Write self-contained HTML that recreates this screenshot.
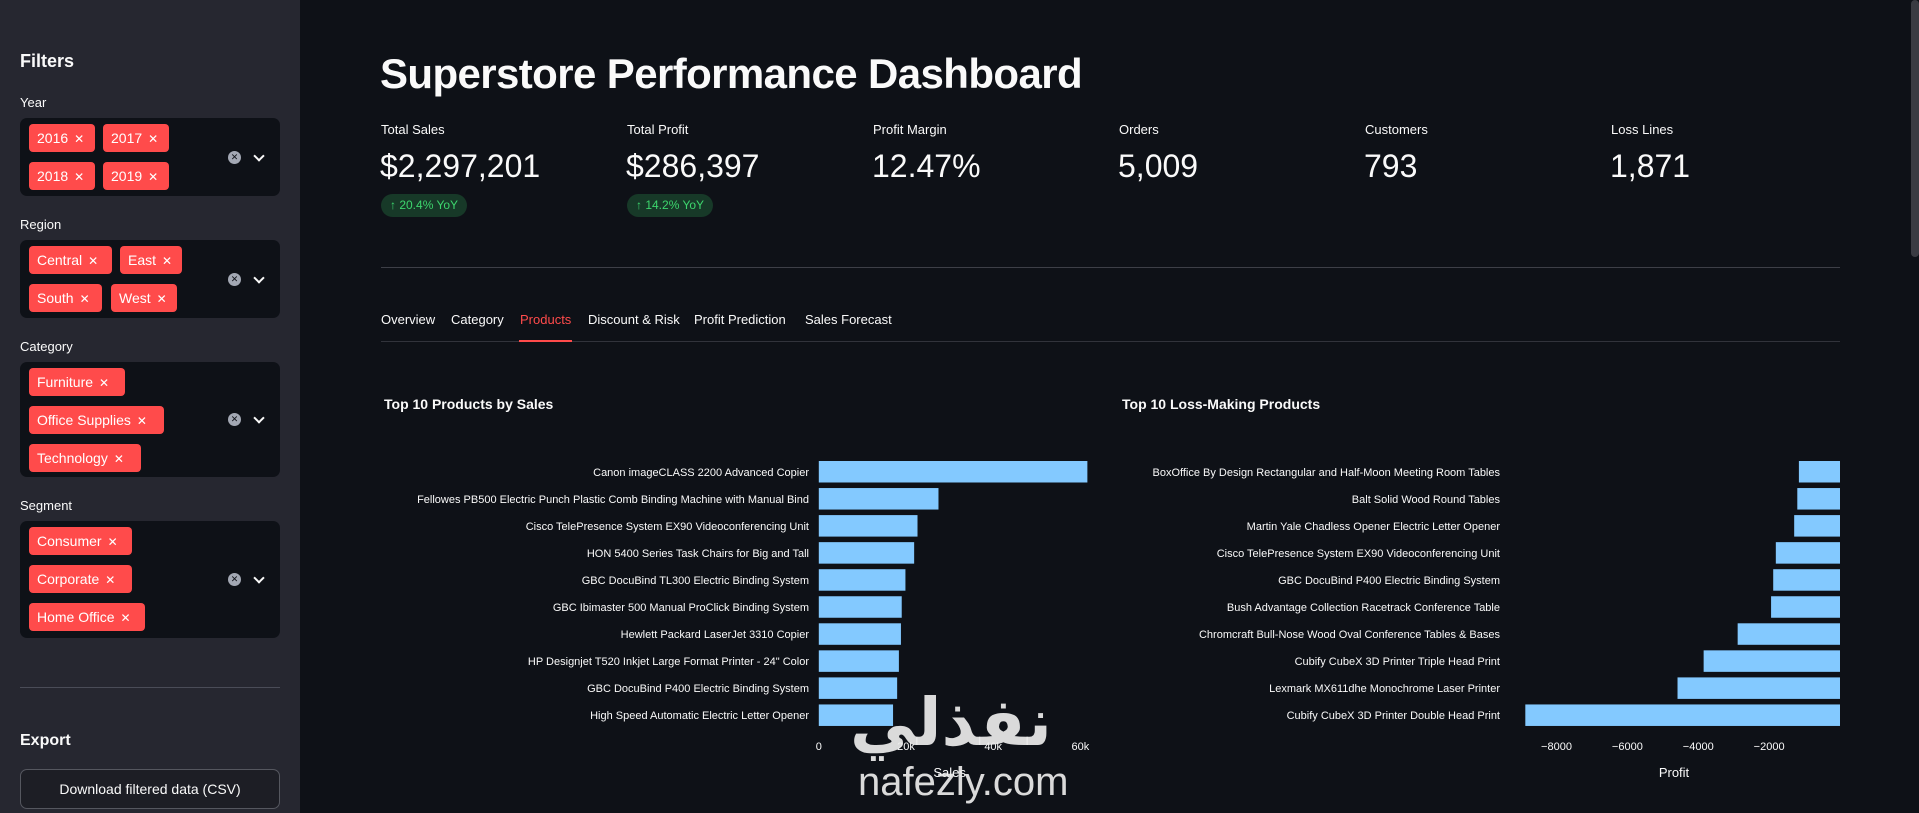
<!DOCTYPE html>
<html><head><meta charset="utf-8">
<style>
*{margin:0;padding:0;box-sizing:border-box}
body{width:1919px;height:813px;overflow:hidden;background:#0e1117;font-family:"Liberation Sans","Noto Sans CJK SC",sans-serif;color:#fafafa;position:relative}
.abs{position:absolute}
#sidebar{left:0;top:0;width:300px;height:813px;background:#262730}
.lbl{font-size:13px;color:#fafafa;left:20px}
.box{left:20px;width:260px;background:#0e1117;border-radius:7px}
.tag{position:absolute;height:28px;background:#ff4b4b;border-radius:4px;color:#fff;font-size:14px;line-height:28px;padding-left:8px;white-space:nowrap}
.tag span{font-size:12px;margin-left:6px}
.clr{position:absolute;left:208px;width:13px;height:13px;border-radius:50%;background:#a3a8b4;color:#0e1117;font-size:9px;text-align:center;line-height:13px}
.chev{position:absolute;left:234px;width:10px;height:10px}
.chev:before{content:"";position:absolute;left:1px;top:0;width:6px;height:6px;border-right:2px solid #fafafa;border-bottom:2px solid #fafafa;transform:rotate(45deg)}
.mlbl{font-size:13px;top:122px}
.mval{font-size:32px;top:148px;font-weight:300}
.pill{top:194px;height:23px;background:#173928;color:#3dd56d;border-radius:12px;font-size:12px;line-height:23px;padding:0 9px}
.tab{top:312px;font-size:13px}
</style></head><body>
<div id="sidebar" class="abs">
  <div class="abs" style="left:20px;top:51px;font-size:18px;font-weight:bold">Filters</div>
  <div class="abs lbl" style="top:95px">Year</div>
  <div class="abs box" style="top:118px;height:78px">
    <div class="tag" style="left:9px;top:6px;width:66px">2016<span>✕</span></div>
    <div class="tag" style="left:83px;top:6px;width:66px">2017<span>✕</span></div>
    <div class="tag" style="left:9px;top:44px;width:66px">2018<span>✕</span></div>
    <div class="tag" style="left:83px;top:44px;width:66px">2019<span>✕</span></div>
    <div class="clr" style="top:33px">✕</div>
    <div class="chev" style="top:34px"></div>
  </div>
  <div class="abs lbl" style="top:217px">Region</div>
  <div class="abs box" style="top:240px;height:78px">
    <div class="tag" style="left:9px;top:6px;width:83px">Central<span>✕</span></div>
    <div class="tag" style="left:100px;top:6px;width:62px">East<span>✕</span></div>
    <div class="tag" style="left:9px;top:44px;width:73px">South<span>✕</span></div>
    <div class="tag" style="left:91px;top:44px;width:66px">West<span>✕</span></div>
    <div class="clr" style="top:33px">✕</div>
    <div class="chev" style="top:34px"></div>
  </div>
  <div class="abs lbl" style="top:339px">Category</div>
  <div class="abs box" style="top:362px;height:115px">
    <div class="tag" style="left:9px;top:6px;width:96px">Furniture<span>✕</span></div>
    <div class="tag" style="left:9px;top:44px;width:135px">Office Supplies<span>✕</span></div>
    <div class="tag" style="left:9px;top:82px;width:112px">Technology<span>✕</span></div>
    <div class="clr" style="top:51px">✕</div>
    <div class="chev" style="top:52px"></div>
  </div>
  <div class="abs lbl" style="top:498px">Segment</div>
  <div class="abs box" style="top:521px;height:117px">
    <div class="tag" style="left:9px;top:6px;width:103px">Consumer<span>✕</span></div>
    <div class="tag" style="left:9px;top:44px;width:103px">Corporate<span>✕</span></div>
    <div class="tag" style="left:9px;top:82px;width:116px">Home Office<span>✕</span></div>
    <div class="clr" style="top:52px">✕</div>
    <div class="chev" style="top:53px"></div>
  </div>
  <div class="abs" style="left:20px;top:687px;width:260px;height:1px;background:#4a4c57"></div>
  <div class="abs" style="left:20px;top:732px;font-size:16px;font-weight:bold">Export</div>
  <div class="abs" style="left:20px;top:769px;width:260px;height:40px;border:1px solid #55575f;border-radius:7px;background:#1d1e25;font-size:14px;text-align:center;line-height:38px">Download filtered data (CSV)</div>
</div>
<div class="abs" style="left:1911px;top:0;width:8px;height:257px;background:#3a3b42;border-radius:4px"></div>

<div class="abs" style="left:380px;top:50px;font-size:42px;font-weight:bold;letter-spacing:-0.6px">Superstore Performance Dashboard</div>

<div class="abs mlbl" style="left:381px">Total Sales</div>
<div class="abs mval" style="left:380px">$2,297,201</div>
<div class="abs pill" style="left:381px">↑ 20.4% YoY</div>
<div class="abs mlbl" style="left:627px">Total Profit</div>
<div class="abs mval" style="left:626px">$286,397</div>
<div class="abs pill" style="left:627px">↑ 14.2% YoY</div>
<div class="abs mlbl" style="left:873px">Profit Margin</div>
<div class="abs mval" style="left:872px">12.47%</div>
<div class="abs mlbl" style="left:1119px">Orders</div>
<div class="abs mval" style="left:1118px">5,009</div>
<div class="abs mlbl" style="left:1365px">Customers</div>
<div class="abs mval" style="left:1364px">793</div>
<div class="abs mlbl" style="left:1611px">Loss Lines</div>
<div class="abs mval" style="left:1610px">1,871</div>

<div class="abs" style="left:381px;top:267px;width:1459px;height:1px;background:#3d3f47"></div>

<div class="abs tab" style="left:381px">Overview</div>
<div class="abs tab" style="left:451px">Category</div>
<div class="abs tab" style="left:520px;color:#ff4b4b">Products</div>
<div class="abs tab" style="left:588px">Discount &amp; Risk</div>
<div class="abs tab" style="left:694px">Profit Prediction</div>
<div class="abs tab" style="left:805px">Sales Forecast</div>
<div class="abs" style="left:381px;top:341px;width:1459px;height:1px;background:#31333b"></div>
<div class="abs" style="left:519px;top:340px;width:53px;height:2px;background:#ff4b4b"></div>

<svg id="c1" class="abs" style="left:0;top:0" width="1919" height="813"></svg>

<div class="abs" style="left:850px;top:684px;font-size:66px;font-weight:bold;color:rgba(235,235,235,0.92);font-family:'DejaVu Sans',sans-serif;direction:rtl">نفذلي</div>
<div class="abs" style="left:858px;top:760px;font-size:40px;color:rgba(235,235,235,0.92)">nafezly.com</div>

<script>
const salesProducts=["Canon imageCLASS 2200 Advanced Copier","Fellowes PB500 Electric Punch Plastic Comb Binding Machine with Manual Bind","Cisco TelePresence System EX90 Videoconferencing Unit","HON 5400 Series Task Chairs for Big and Tall","GBC DocuBind TL300 Electric Binding System","GBC Ibimaster 500 Manual ProClick Binding System","Hewlett Packard LaserJet 3310 Copier","HP Designjet T520 Inkjet Large Format Printer - 24\" Color","GBC DocuBind P400 Electric Binding System","High Speed Automatic Electric Letter Opener"];
const salesValues=[61600,27450,22640,21870,19870,19020,18840,18370,17970,17030];
const salesTicks=[0,20000,40000,60000];
const salesTickLabels=["0","20k","40k","60k"];
const lossProducts=["BoxOffice By Design Rectangular and Half-Moon Meeting Room Tables","Balt Solid Wood Round Tables","Martin Yale Chadless Opener Electric Letter Opener","Cisco TelePresence System EX90 Videoconferencing Unit","GBC DocuBind P400 Electric Binding System","Bush Advantage Collection Racetrack Conference Table","Chromcraft Bull-Nose Wood Oval Conference Tables & Bases","Cubify CubeX 3D Printer Triple Head Print","Lexmark MX611dhe Monochrome Laser Printer","Cubify CubeX 3D Printer Double Head Print"];
const lossValues=[-1160,-1205,-1293,-1811,-1885,-1945,-2888,-3848,-4585,-8880];
const lossTicks=[-8000,-6000,-4000,-2000];
const lossTickLabels=["−8000","−6000","−4000","−2000"];

const svg=document.getElementById('c1');
const NS='http://www.w3.org/2000/svg';
function mk(tag,attrs,txt){const e=document.createElementNS(NS,tag);for(const k in attrs)e.setAttribute(k,attrs[k]);if(txt!==undefined)e.textContent=txt;svg.appendChild(e);return e;}
const bandTop=461, bandStep=27.05, barH=21.5;
function yBand(i){return bandTop+i*bandStep;}

const x1=v=>818.8+(v-0)*(1080.4-818.8)/60000;
let t=mk('text',{x:384,y:409,'font-size':14,'font-weight':'bold',fill:'#fafafa'},'Top 10 Products by Sales');

salesValues.forEach((v,i)=>{
  const r=mk('rect',{x:x1(0),y:yBand(i),width:x1(v)-x1(0),height:barH,fill:'#83c9ff'});
  
  
  const l=mk('text',{x:809,y:yBand(i)+barH/2+4,'font-size':11,'text-anchor':'end',fill:'#fafafa'},salesProducts[i]);
  
  
});
salesTicks.forEach((v,i)=>{
  const l=mk('text',{x:x1(v),y:750,'font-size':11,'text-anchor':'middle',fill:'#fafafa'},salesTickLabels[i]);
  
  
});
t=mk('text',{x:x1(30000),y:777,'font-size':13,'text-anchor':'middle',fill:'#fafafa'},'Sales');


const x2=v=>1840+v*(1840-1556.5)/8000;
t=mk('text',{x:1122,y:409,'font-size':14,'font-weight':'bold',fill:'#fafafa'},'Top 10 Loss-Making Products');

lossValues.forEach((v,i)=>{
  const r=mk('rect',{x:x2(v),y:yBand(i),width:x2(0)-x2(v),height:barH,fill:'#83c9ff'});
  
  
  const l=mk('text',{x:1500,y:yBand(i)+barH/2+4,'font-size':11,'text-anchor':'end',fill:'#fafafa'},lossProducts[i]);
  
  
});
lossTicks.forEach((v,i)=>{
  const l=mk('text',{x:x2(v),y:750,'font-size':11,'text-anchor':'middle',fill:'#fafafa'},lossTickLabels[i]);
  
  
});
t=mk('text',{x:1674,y:777,'font-size':13,'text-anchor':'middle',fill:'#fafafa'},'Profit');

</script>
</body></html>
